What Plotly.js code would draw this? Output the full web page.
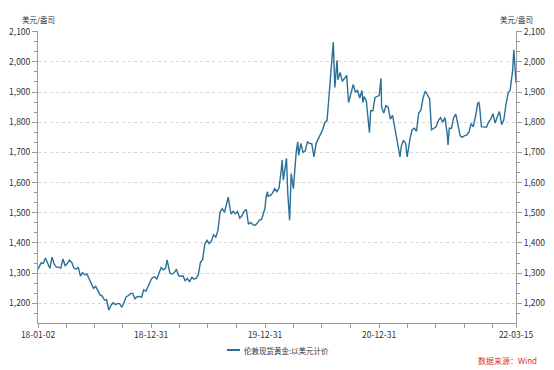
<!DOCTYPE html>
<html>
<head>
<meta charset="utf-8">
<script src="https://cdn.plot.ly/plotly-3.0.1.min.js"></script>
<style>html,body{margin:0;padding:0;background:#fff;}#chart{width:554px;height:370px;}</style>
</head>
<body>
<div id="chart"></div>
<script>
const seriesName = '伦敦现货黄金:以美元计价';
const unitLabel = '美元/盎司';
const sourceLabel = '数据来源：Wind';

const dates2018 = ['2018-01-02','2018-01-05','2018-01-12','2018-01-19','2018-01-26','2018-02-02','2018-02-09','2018-02-16','2018-02-23','2018-03-02','2018-03-09','2018-03-16','2018-03-23','2018-03-30','2018-04-06','2018-04-13','2018-04-20','2018-04-27','2018-05-04','2018-05-11','2018-05-18','2018-05-25','2018-06-01','2018-06-08','2018-06-15','2018-06-22','2018-06-29','2018-07-06','2018-07-13','2018-07-20','2018-07-27','2018-08-03','2018-08-10','2018-08-17','2018-08-24','2018-08-31','2018-09-07','2018-09-14','2018-09-21','2018-09-28','2018-10-05','2018-10-12','2018-10-19','2018-10-26','2018-11-02','2018-11-09','2018-11-16','2018-11-23','2018-11-30','2018-12-07','2018-12-14','2018-12-21','2018-12-31'];
const prices2018 = [1313,1319,1334,1332,1350,1333,1316,1353,1330,1320,1320,1317,1347,1325,1332,1343,1336,1317,1313,1320,1290,1302,1295,1297,1282,1268,1250,1256,1241,1228,1224,1211,1212,1178,1193,1202,1196,1199,1199,1187,1203,1222,1226,1233,1233,1215,1222,1223,1220,1245,1240,1258,1279];

const dates2019 = ['2019-01-04','2019-01-11','2019-01-18','2019-01-25','2019-02-01','2019-02-08','2019-02-15','2019-02-20','2019-03-01','2019-03-08','2019-03-15','2019-03-22','2019-03-29','2019-04-05','2019-04-12','2019-04-19','2019-04-26','2019-05-03','2019-05-10','2019-05-17','2019-05-24','2019-05-31','2019-06-07','2019-06-14','2019-06-21','2019-06-28','2019-07-05','2019-07-12','2019-07-19','2019-07-26','2019-08-02','2019-08-09','2019-08-16','2019-08-23','2019-08-30','2019-09-04','2019-09-13','2019-09-20','2019-09-27','2019-10-04','2019-10-11','2019-10-18','2019-10-25','2019-11-01','2019-11-08','2019-11-15','2019-11-22','2019-11-29','2019-12-06','2019-12-13','2019-12-20','2019-12-31'];
const prices2019 = [1285,1288,1281,1298,1319,1311,1316,1344,1300,1297,1302,1313,1292,1290,1291,1275,1283,1271,1286,1281,1283,1295,1336,1345,1397,1409,1398,1406,1427,1419,1441,1502,1514,1501,1529,1552,1496,1505,1497,1504,1482,1490,1505,1511,1462,1468,1461,1458,1465,1476,1478,1515];

const dates2020 = ['2020-01-03','2020-01-08','2020-01-10','2020-01-17','2020-01-24','2020-01-31','2020-02-07','2020-02-14','2020-02-21','2020-02-24','2020-02-28','2020-03-06','2020-03-09','2020-03-13','2020-03-19','2020-03-24','2020-03-27','2020-03-31','2020-04-09','2020-04-14','2020-04-17','2020-04-24','2020-05-01','2020-05-08','2020-05-15','2020-05-22','2020-05-29','2020-06-05','2020-06-12','2020-06-19','2020-06-26','2020-07-03','2020-07-10','2020-07-17','2020-07-24','2020-07-28','2020-07-31','2020-08-06','2020-08-11','2020-08-14','2020-08-18','2020-08-21','2020-08-28','2020-09-04','2020-09-11','2020-09-18','2020-09-24','2020-10-02','2020-10-09','2020-10-16','2020-10-23','2020-10-30','2020-11-06','2020-11-09','2020-11-13','2020-11-20','2020-11-27','2020-11-30','2020-12-04','2020-12-11','2020-12-18','2020-12-31'];
const prices2020 = [1549,1570,1555,1557,1565,1580,1570,1582,1640,1675,1608,1670,1680,1565,1475,1630,1605,1580,1700,1735,1690,1730,1700,1705,1735,1730,1728,1685,1730,1745,1765,1775,1800,1805,1895,1955,1965,2065,1915,1945,2005,1940,1965,1935,1945,1955,1865,1900,1925,1900,1905,1880,1905,1865,1885,1870,1785,1765,1838,1838,1882,1888];

const dates2021 = ['2021-01-06','2021-01-08','2021-01-15','2021-01-22','2021-01-29','2021-02-05','2021-02-12','2021-02-19','2021-02-26','2021-03-05','2021-03-08','2021-03-12','2021-03-19','2021-03-26','2021-03-31','2021-04-09','2021-04-16','2021-04-23','2021-04-30','2021-05-07','2021-05-14','2021-05-21','2021-05-28','2021-06-04','2021-06-11','2021-06-17','2021-06-25','2021-07-02','2021-07-09','2021-07-16','2021-07-23','2021-07-30','2021-08-06','2021-08-09','2021-08-13','2021-08-20','2021-08-27','2021-09-03','2021-09-10','2021-09-17','2021-09-24','2021-09-30','2021-10-08','2021-10-15','2021-10-22','2021-10-29','2021-11-05','2021-11-12','2021-11-16','2021-11-19','2021-11-24','2021-12-03','2021-12-10','2021-12-17','2021-12-24','2021-12-31'];
const prices2021 = [1945,1850,1830,1855,1850,1810,1823,1780,1735,1700,1685,1720,1740,1730,1685,1745,1775,1780,1770,1830,1840,1880,1903,1890,1877,1775,1780,1785,1805,1815,1800,1815,1765,1725,1780,1780,1815,1827,1790,1755,1750,1755,1757,1767,1795,1785,1818,1862,1865,1845,1785,1783,1783,1800,1810,1828];

const dates2022 = ['2022-01-07','2022-01-14','2022-01-21','2022-01-28','2022-02-04','2022-02-11','2022-02-18','2022-02-24','2022-03-01','2022-03-04','2022-03-08','2022-03-10','2022-03-14','2022-03-15'];
const prices2022 = [1797,1818,1835,1792,1808,1860,1898,1905,1944,1968,2040,1998,1955,1930];

const xTickVals = ['2018-01-02','2018-04-02','2018-07-02','2018-10-01','2018-12-31','2019-04-01','2019-07-01','2019-09-30','2019-12-31','2020-03-31','2020-06-30','2020-09-30','2020-12-31','2021-03-31','2021-06-30','2021-09-30','2021-12-31','2022-03-15'];
const xTickText = ['18-01-02','','','','18-12-31','','','','19-12-31','','','','20-12-31','','','','','22-03-15'];

const dates = [].concat(dates2018, dates2019, dates2020, dates2021, dates2022);
const prices = [].concat(prices2018, prices2019, prices2020, prices2021, prices2022);

const lineColor = '#2a6f97';
const axisColor = '#9a9a9a';
const yRange = [1135, 2102];

const yCommon = {
  range: yRange, tick0: 0, dtick: 100, tickformat: ',d',
  ticks: 'outside', ticklen: 5, tickcolor: axisColor, tickwidth: 1,
  showline: true, linecolor: axisColor, linewidth: 1, zeroline: false,
  tickfont: {size: 8.5, color: '#333'},
  minor: {dtick: 100/3, tick0: 0, ticks: 'outside', ticklen: 3, tickcolor: axisColor, showgrid: false}
};

const layout = {
  width: 554, height: 370,
  margin: {l: 38, r: 38, t: 31, b: 47, pad: 0},
  paper_bgcolor: '#fff', plot_bgcolor: '#fff',
  font: {family: '"Noto Sans CJK SC", "Noto Sans", sans-serif', size: 8, color: '#333'},
  showlegend: false,
  xaxis: {
    type: 'date', range: ['2018-01-02', '2022-03-15'],
    tickmode: 'array', tickvals: xTickVals, ticktext: xTickText,
    ticks: 'outside', ticklen: 4, tickcolor: axisColor,
    showline: true, linecolor: axisColor, linewidth: 1,
    showgrid: false, zeroline: false,
    tickfont: {size: 8.5, color: '#333'}
  },
  yaxis: Object.assign({}, yCommon, {side: 'left', showgrid: true, gridcolor: '#d6d6d6', griddash: 'dot', gridwidth: 1}),
  yaxis2: Object.assign({}, yCommon, {side: 'right', overlaying: 'y', showgrid: false}),
  shapes: [{
    type: 'line', xref: 'paper', yref: 'paper',
    x0: (227 - 38) / 478, x1: (240 - 38) / 478, y0: -0.0925, y1: -0.0925,
    line: {color: lineColor, width: 2}
  }],
  annotations: [
    {text: unitLabel, xref: 'paper', yref: 'paper', x: 0, y: 1.041, xanchor: 'center', yanchor: 'middle', showarrow: false, font: {size: 7.5, color: '#333'}},
    {text: unitLabel, xref: 'paper', yref: 'paper', x: 1, y: 1.041, xanchor: 'center', yanchor: 'middle', showarrow: false, font: {size: 7.5, color: '#333'}},
    {text: seriesName, xref: 'paper', yref: 'paper', x: (242 - 38) / 478, y: -0.0925, xanchor: 'left', yanchor: 'middle', showarrow: false, font: {size: 7.5, color: '#333'}},
    {text: sourceLabel, xref: 'paper', yref: 'paper', x: (539 - 38) / 478, y: -0.127, xanchor: 'right', yanchor: 'middle', showarrow: false, font: {size: 8, color: '#e0312f'}}
  ]
};

const traces = [
  {x: dates, y: prices, type: 'scatter', mode: 'lines', name: seriesName, line: {color: lineColor, width: 1.4}, hoverinfo: 'skip'},
  {x: dates, y: prices, type: 'scatter', mode: 'lines', yaxis: 'y2', name: seriesName, line: {color: lineColor, width: 0}, opacity: 0, hoverinfo: 'skip', showlegend: false}
];

Plotly.newPlot('chart', traces, layout, {staticPlot: true, displayModeBar: false});
</script>
</body>
</html>
